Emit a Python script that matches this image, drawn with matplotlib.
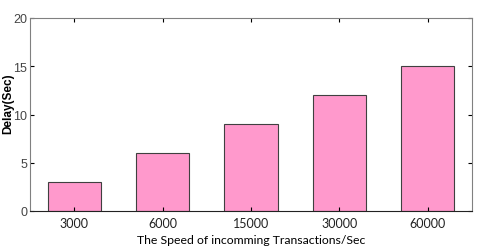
import matplotlib
matplotlib.use("Agg")
import matplotlib.pyplot as plt

# datos
velocidades = ["3000", "6000", "15000", "30000", "60000"]
retardo = [3, 6, 9, 12, 15]
y_ticks = [0, 5, 10, 15, 20]

fig = plt.figure(figsize=(4.8, 2.53), dpi=100)
ax = fig.add_axes([30/480, 1 - 212/253, 442/480, 193/253])

pos = list(range(1, len(velocidades) + 1))
ax.bar(pos, retardo, width=0.6, color="#FF99CC", edgecolor="#404040", linewidth=0.8)

ax.set_xlim(0.5, 5.5)
ax.set_ylim(0, 20)
ax.set_xticks(pos)
ax.set_xticklabels(velocidades, family="Lato", fontsize=9, color="#222222")
ax.set_yticks(y_ticks)
ax.tick_params(axis="y", labelsize=9, labelcolor="#444444", direction="in", length=3, right=True, pad=2)
ax.tick_params(axis="x", direction="in", length=3, top=True, pad=4)
for lab in ax.get_yticklabels():
    lab.set_family("Liberation Sans")

for s in ["top", "right", "left"]:
    ax.spines[s].set_color("#808080")
ax.spines["bottom"].set_color("#222222")

ax.set_ylabel("Delay(Sec)", fontsize=8.5, fontweight="bold", family="Liberation Sans")
ax.yaxis.set_label_coords(-0.036, 0.56)
ax.set_xlabel("The Speed of incomming Transactions/Sec", fontsize=8.8, family="Lato", labelpad=4)

fig.savefig("out.png", dpi=100)
